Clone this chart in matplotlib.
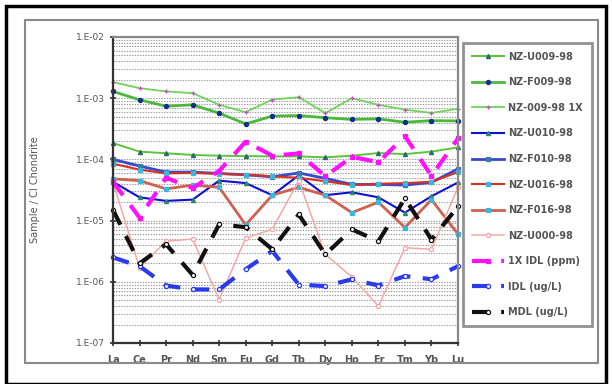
import numpy as np
import matplotlib
matplotlib.use("Agg")
import matplotlib.pyplot as plt
from matplotlib.patches import Rectangle
from matplotlib.ticker import LogLocator, NullFormatter, FixedLocator

elements = ["La", "Ce", "Pr", "Nd", "Sm", "Eu", "Gd", "Tb", "Dy", "Ho", "Er", "Tm", "Yb", "Lu"]
ytick_vals = [1e-7, 1e-6, 1e-5, 1e-4, 1e-3, 1e-2]
ytick_labels = ["1.E-07", "1.E-06", "1.E-05", "1.E-04", "1.E-03", "1.E-02"]

nz_u009 = [1.85e-4, 1.34e-4, 1.26e-4, 1.18e-4, 1.15e-4, 1.13e-4, 1.12e-4, 1.12e-4, 1.08e-4, 1.15e-4, 1.27e-4, 1.22e-4, 1.34e-4, 1.57e-4]
nz_f009 = [1.29e-3, 9.4e-4, 7.4e-4, 7.8e-4, 5.7e-4, 3.8e-4, 5.1e-4, 5.2e-4, 4.8e-4, 4.5e-4, 4.6e-4, 4.05e-4, 4.3e-4, 4.25e-4]
nz_009_1x = [1.83e-3, 1.46e-3, 1.29e-3, 1.21e-3, 7.8e-4, 5.9e-4, 9.5e-4, 1.04e-3, 5.7e-4, 1.0e-3, 7.8e-4, 6.5e-4, 5.75e-4, 6.7e-4]
nz_u010 = [4.3e-5, 2.4e-5, 2.1e-5, 2.2e-5, 4.5e-5, 4.1e-5, 2.6e-5, 5.5e-5, 2.6e-5, 2.9e-5, 2.4e-5, 1.35e-5, 2.5e-5, 4.2e-5]
nz_f010 = [1.0e-4, 7.8e-5, 6.2e-5, 6.2e-5, 5.9e-5, 5.6e-5, 5.2e-5, 6.0e-5, 4.9e-5, 3.9e-5, 3.9e-5, 3.8e-5, 4.2e-5, 7.0e-5]
nz_u016 = [8.5e-5, 6.8e-5, 5.9e-5, 6.0e-5, 5.8e-5, 5.6e-5, 5.3e-5, 5.0e-5, 4.4e-5, 3.8e-5, 4.0e-5, 4.1e-5, 4.3e-5, 6.2e-5]
nz_f016 = [4.8e-5, 4.5e-5, 3.3e-5, 3.8e-5, 3.5e-5, 8.5e-6, 2.6e-5, 3.5e-5, 2.6e-5, 1.35e-5, 2.0e-5, 7.7e-6, 2.2e-5, 6.0e-6]
nz_u000 = [4.2e-5, 1.7e-6, 4.6e-6, 5.0e-6, 5.1e-7, 5.2e-6, 7.2e-6, 4.5e-5, 2.8e-6, 1.2e-6, 4.0e-7, 3.6e-6, 3.4e-6, 3.5e-5]
idl_1x_ppm = [4.3e-5, 1.12e-5, 5.0e-5, 3.4e-5, 6.5e-5, 1.95e-4, 1.15e-4, 1.25e-4, 5.3e-5, 1.1e-4, 9.0e-5, 2.4e-4, 5.4e-5, 2.2e-4]
idl_ugl = [2.5e-6, 1.8e-6, 8.7e-7, 7.5e-7, 7.5e-7, 1.6e-6, 3.2e-6, 9.0e-7, 8.5e-7, 1.1e-6, 8.7e-7, 1.24e-6, 1.1e-6, 1.8e-6]
mdl_ugl = [1.5e-5, 2.0e-6, 4.1e-6, 1.3e-6, 8.7e-6, 7.8e-6, 3.4e-6, 1.26e-5, 2.8e-6, 7.2e-6, 4.6e-6, 2.3e-5, 4.9e-6, 1.7e-5]

fig = plt.figure(figsize=(6.12, 3.84), dpi=100)
ax = fig.add_axes([113/612, 1-343/384, 345/612, 306/384])

x = np.arange(len(elements))
dash = (0, (4, 3))
# label, data, color, lw, linestyle, marker, marker face, marker edge, marker size
series = [
    ("NZ-U009-98", nz_u009, "#5cc43c", 1.4, "-", "^", "#2a6a6a", "#2a6a6a", 3),
    ("NZ-F009-98", nz_f009, "#4cb83a", 2.0, "-", "o", "#12308a", "#12308a", 3),
    ("NZ-009-98 1X", nz_009_1x, "#70d45a", 1.3, "-", "+", "#cc44cc", "#cc44cc", 3.5),
    ("NZ-U010-98", nz_u010, "#1010d0", 1.5, "-", "^", "#2a8a6a", "#2a8a6a", 3),
    ("NZ-F010-98", nz_f010, "#3a48cc", 2.0, "-", "s", "#3a78b0", "#3a78b0", 3),
    ("NZ-U016-98", nz_u016, "#d83020", 1.5, "-", "s", "#38b8e0", "#38b8e0", 3),
    ("NZ-F016-98", nz_f016, "#d06050", 2.0, "-", "s", "#38b8e0", "#38b8e0", 3),
    ("NZ-U000-98", nz_u000, "#f2a8a8", 1.1, "-", "o", "white", "#f2a8a8", 3),
    ("1X IDL (ppm)", idl_1x_ppm, "#ff10ff", 3.0, dash, "s", "#ff10ff", "#ff10ff", 2.5),
    ("IDL (ug/L)", idl_ugl, "#2a3aee", 3.0, dash, "o", "white", "#2a3aee", 3),
    ("MDL (ug/L)", mdl_ugl, "#111111", 3.0, dash, "o", "white", "#111111", 3),
]
for label, vals, c, lw, ls, m, mfc, mec, ms in series:
    ax.plot(x, vals, color=c, lw=lw, ls=ls, marker=m, mfc=mfc, mec=mec,
            ms=ms, mew=0.9, label=label, clip_on=False)

ax.set_yscale("log")
ax.set_ylim(1e-7, 1e-2)
ax.set_xlim(0, len(elements) - 1)
ax.yaxis.set_major_locator(FixedLocator(ytick_vals))
ax.set_yticklabels(ytick_labels)
ax.yaxis.set_minor_locator(LogLocator(base=10, subs=np.arange(2, 10)))
ax.yaxis.set_minor_formatter(NullFormatter())
ax.set_xticks(x)
ax.set_xticklabels(elements)
ax.tick_params(axis="both", which="major", direction="inout", length=5, width=1.2,
               color="#333333", labelcolor="#555555", labelsize=6.5)
ax.tick_params(axis="y", which="minor", length=0)
ax.tick_params(axis="x", pad=6, labelsize=7)
for lab in ax.get_xticklabels():
    lab.set_fontweight("bold")

ax.yaxis.grid(True, which="both", color="#9a9a9a", lw=0.8, ls=(0, (1.2, 1.2)))
ax.set_axisbelow(True)
for side in ["left", "bottom"]:
    ax.spines[side].set_color("#333333")
    ax.spines[side].set_linewidth(1.6)
for side in ["top", "right"]:
    ax.spines[side].set_color("#888888")
    ax.spines[side].set_linewidth(1.6)

fig.text(35/612, 1-190/384, "Sample / CI Chondrite", rotation=90, ha="center", va="center",
         fontsize=7, color="#555555")

leg = fig.legend(loc="upper left", bbox_to_anchor=(463/612, 1-43/384), fontsize=7,
                 frameon=True, fancybox=False, labelspacing=1.6, borderpad=0.9,
                 handlelength=3.3, handletextpad=0.45, borderaxespad=0)
leg.get_frame().set_edgecolor("#777777")
leg.get_frame().set_linewidth(2)
for t in leg.get_texts():
    t.set_color("#555555")
    t.set_fontweight("bold")

# grey inner box and black outer border
fig.patches.append(Rectangle((25/612, 1-363/384), 573/612, 343/384, transform=fig.transFigure,
                             fill=False, edgecolor="#8a8a8a", lw=1.5))
fig.patches.append(Rectangle((6/612, 0), 600/612, 1-6/384, transform=fig.transFigure,
                             fill=False, edgecolor="black", lw=2.5))

fig.savefig("out.png", dpi=100)
